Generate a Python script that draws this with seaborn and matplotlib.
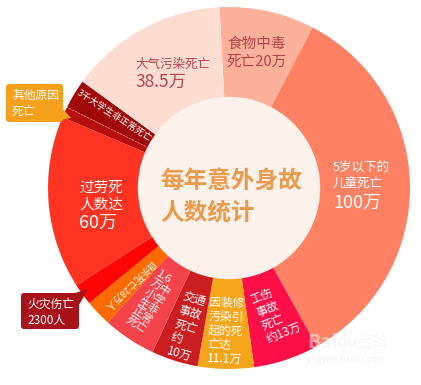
import numpy as np
import matplotlib
matplotlib.use("Agg")
import matplotlib.pyplot as plt
import seaborn as sns
from matplotlib.patches import Circle, FancyBboxPatch, Polygon

# Slices clockwise from the top, sizes are the angles (degrees)
names = ['食物中毒', '5岁以下儿童', '工伤事故', '装修污染', '交通事故', '中小学生',
         '自杀', '火灾', '过劳死', '其他原因', '大学生', '大气污染']
angles = [30.5, 123.5, 21, 18, 15, 17, 8.5, 7, 55.5, 3.5, 9.5, 51]
colors = ['#FDB19B', '#FF8163', '#FF0F47', '#F5A51A', '#CC1D20', '#F4434B',
          '#FF6A00', '#FF0505', '#FF3322', '#B80E0E', '#A10909', '#FDDDD1']

sns.set_theme(style="white")
plt.rcParams['font.family'] = ['Noto Sans CJK SC', 'DejaVu Sans']

W, H = 421, 385
fig = plt.figure(figsize=(W / 100, H / 100), dpi=100)
ax = fig.add_axes([0, 0, 1, 1])

cx, cy, R, r_in = 229, H - 188, 181, 90
ax.pie(angles, colors=colors, startangle=93, counterclock=False, radius=R,
       center=(cx, cy), wedgeprops=dict(width=R - r_in, linewidth=0))
ax.add_patch(Circle((cx, cy), r_in + 0.5, color='#FDF1EC', zorder=3))

# dashed line between the two dark slivers
a = np.deg2rad(153.5)
ax.plot([cx + r_in * np.cos(a), cx + R * np.cos(a)], [cy + r_in * np.sin(a), cy + R * np.sin(a)],
        ls=(0, (2, 2)), color='#e88080', lw=0.6, zorder=4)

ax.set_xlim(0, W)
ax.set_ylim(0, H)
ax.set_aspect('equal')
ax.axis('off')


def T(x, y, s, **kw):
    # x, y in picture pixels from the top-left
    kw.setdefault('color', 'white')
    kw.setdefault('va', 'center')
    kw.setdefault('ha', 'left')
    kw.setdefault('zorder', 5)
    ax.text(x, H - y, s, **kw)


dark = '#B9434A'
T(135, 64, '大气污染死亡', fontsize=9, color=dark)
T(135, 82, '38.5万', fontsize=12.5, color=dark)
T(227, 44, '食物中毒', fontsize=10.5, color=dark)
T(227, 62, '死亡20万', fontsize=10.5, color=dark)

T(333, 167, '5岁以下的', fontsize=9)
T(333, 184, '儿童死亡', fontsize=9)
T(333, 203, '100万', fontsize=13)

T(79, 188, '过劳死', fontsize=10.5)
T(79, 205, '人数达', fontsize=10.5)
T(79, 223, '60万', fontsize=13)

T(160, 181, '每年意外身故', fontsize=17, fontweight='bold', color='#E99A4A')
T(160, 212, '人数统计', fontsize=17, fontweight='bold', color='#E99A4A')

rot = dict(ha='center', rotation_mode='anchor', linespacing=1.1, multialignment='left')
T(276, 313, '工伤\n事故\n死亡\n约13万', fontsize=8.5, rotation=22, **rot)
T(226, 331, '因装修\n污染引\n起的死\n亡达\n11.1万', fontsize=8.5, rotation=-2, **rot)
T(187, 327, '交通\n事故\n死亡\n约\n10万', fontsize=8.5, rotation=-16, **rot)
T(151, 302, '1.6\n万中\n小学\n生非\n正常\n死亡', fontsize=8, rotation=-33, **rot)
T(128, 285, '自杀死亡28万人', fontsize=6.8, rotation=224, ha='center', rotation_mode='anchor')
T(114, 116, '3千大学生非正常死亡', fontsize=6.6, rotation=-33, ha='center', rotation_mode='anchor')


# callout boxes
def callout(x0, y0, w, h, tri, color, lines):
    ax.add_patch(FancyBboxPatch((x0, H - y0 - h), w, h, boxstyle='round,pad=0,rounding_size=3',
                                fc=color, ec='none', zorder=6))
    ax.add_patch(Polygon([(px, H - py) for px, py in tri], closed=True, fc=color, ec='none', zorder=6))
    for i, s in enumerate(lines):
        T(x0 + 6, y0 + 11 + i * 16, s, fontsize=8.5, zorder=7)


callout(6, 84, 57, 38, [(54, 121), (62, 108), (71, 118)], '#F7A01C', ['其他原因', '死亡'])
callout(21, 293, 58, 36, [(72, 294), (79, 305), (88, 289)], '#A8121A', ['火灾伤亡', '2300人'])

# watermark
T(307, 342, 'Bai', fontsize=14, color='#f0f0f0', alpha=0.55, fontweight='bold')
T(336, 342, 'du', fontsize=12, color='#f0f0f0', alpha=0.55, fontweight='bold')
T(358, 342, '经验', fontsize=11, color='#f0f0f0', alpha=0.55)
T(306, 360, 'jingyan.baidu.com', fontsize=6.5, color='#e6e6e6', alpha=0.6)

fig.savefig('out.png', dpi=100)
